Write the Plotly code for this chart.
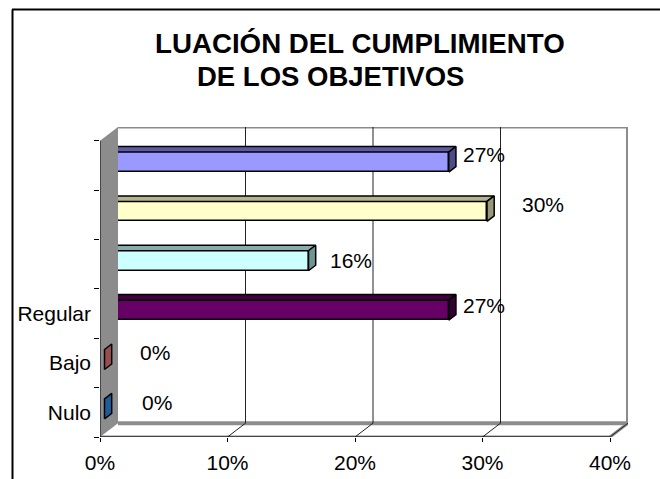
import plotly.graph_objects as go

# Survey results, bottom to top
categories = ["Nulo", "Bajo", "Regular", "", "", ""]
values = [0, 0, 27, 16, 30, 27]
x_ticks = [0, 10, 20, 30, 40]
x_tick_labels = ["0%", "10%", "20%", "30%", "40%"]
title_lines = ["LUACIÓN DEL CUMPLIMIENTO", "DE LOS OBJETIVOS"]

# Face colours (front, top, end) for each bar
front_colors = ["#3399FF", "#FF8080", "#660066", "#CCFFFF", "#FFFFCC", "#9999FF"]
top_colors = ["#225F9E", "#A65454", "#420042", "#88ABAB", "#B3B38F", "#5C5CA6"]
end_colors = ["#1F5C99", "#994D4D", "#330033", "#6E9494", "#999977", "#4D4D8C"]

# Label nudges in pixels (x, y)
label_dx = [28, 26, 5, 12, 26, 5]
label_dy = [10, 10, 8, 4, 10, 11]

FONT = "Liberation Sans, Arial, sans-serif"

# Oblique projection: full depth shifts by DX (data %) and DY (category units)
W, H = 660, 479
L, R, T, B = 100, 32, 127, 42
X_MAX = 40
N = len(categories)
px_per_x = 12.75
DX = (W - L - R) / px_per_x - X_MAX
DY = 0.28
Y_MAX = N + DY
D0, D1 = 0.25, 0.65      # bar depth span (fraction of full depth)
BAR_H = 0.405            # bar thickness in category units

fig = go.Figure()

# Front faces of the bars
centers = [i + 0.5 + D0 * DY for i in range(N)]
fig.add_trace(go.Bar(
    orientation="h", x=values, y=centers, base=[D0 * DX] * N, width=BAR_H,
    marker=dict(color=front_colors, line=dict(color="black", width=1.5)),
    hoverinfo="skip", showlegend=False,
))

def top_face(i, v):
    yt0 = i + 0.5 + D0 * DY + BAR_H / 2
    yt1 = yt0 + (D1 - D0) * DY
    xs = [D0 * DX, v + D0 * DX, v + D1 * DX, D1 * DX, D0 * DX]
    ys = [yt0, yt0, yt1, yt1, yt0]
    return xs, ys

def end_face(i, v):
    yb0 = i + 0.5 + D0 * DY - BAR_H / 2
    yt0 = yb0 + BAR_H
    yb1 = yb0 + (D1 - D0) * DY
    yt1 = yt0 + (D1 - D0) * DY
    xs = [v + D0 * DX, v + D0 * DX, v + D1 * DX, v + D1 * DX, v + D0 * DX]
    ys = [yb0, yt0, yt1, yb1, yb0]
    return xs, ys

for i, v in enumerate(values):
    xs, ys = top_face(i, v)
    fig.add_trace(go.Scatter(
        x=xs, y=ys, mode="lines", fill="toself", fillcolor=top_colors[i],
        line=dict(color="black", width=1.5), hoverinfo="skip", showlegend=False,
    ))

# Side wall (covers the near ends of the bars)
fig.add_trace(go.Scatter(
    x=[0, 0, DX, DX, 0], y=[0, N, N + DY, DY, 0],
    mode="lines", fill="toself", fillcolor="#8C8C8C",
    line=dict(color="#8C8C8C", width=0), hoverinfo="skip", showlegend=False,
))

for i, v in enumerate(values):
    xs, ys = end_face(i, v)
    fig.add_trace(go.Scatter(
        x=xs, y=ys, mode="lines", fill="toself", fillcolor=end_colors[i],
        line=dict(color="black", width=1.5), hoverinfo="skip", showlegend=False,
    ))

shapes = []
# Back wall and floor
shapes.append(dict(type="line", xref="x", yref="y", x0=DX, x1=X_MAX + DX, y0=Y_MAX, y1=Y_MAX,
                   line=dict(color="#8C8C8C", width=3), layer="below"))
shapes.append(dict(type="line", xref="x", yref="y", x0=X_MAX + DX, x1=X_MAX + DX, y0=DY, y1=Y_MAX,
                   line=dict(color="#8C8C8C", width=4), layer="below"))
shapes.append(dict(type="line", xref="x", yref="y", x0=DX, x1=X_MAX + DX, y0=DY, y1=DY,
                   line=dict(color="#8C8C8C", width=4), layer="below"))
shapes.append(dict(type="line", xref="x", yref="y", x0=X_MAX, x1=X_MAX + DX, y0=0, y1=DY,
                   line=dict(color="#8C8C8C", width=3), layer="below"))
shapes.append(dict(type="line", xref="x", yref="y", x0=0, x1=X_MAX, y0=0, y1=0,
                   line=dict(color="#8C8C8C", width=3), layer="below"))
# Grid lines on floor and back wall
for t in x_ticks[1:-1]:
    shapes.append(dict(type="line", xref="x", yref="y", x0=t, x1=t + DX, y0=0, y1=DY,
                       line=dict(color="#222222", width=1), layer="below"))
    shapes.append(dict(type="line", xref="x", yref="y", x0=t + DX, x1=t + DX, y0=DY, y1=Y_MAX,
                       line=dict(color="#222222", width=1), layer="below"))
shapes.append(dict(type="line", xref="x", yref="y", x0=X_MAX, x1=X_MAX + DX, y0=0, y1=DY,
                   line=dict(color="#222222", width=1), layer="below"))
# Front axis lines
shapes.append(dict(type="line", xref="x", yref="y", x0=0, x1=X_MAX, y0=0, y1=0,
                   line=dict(color="black", width=1)))
shapes.append(dict(type="line", xref="x", yref="y", x0=0, x1=0, y0=0, y1=N,
                   line=dict(color="black", width=1)))
# Chart frame (top and left edges)
def px_to_paper_x(p):
    return (p - L) / (W - L - R)

def px_to_paper_y(p):
    return (H - B - p) / (H - T - B)

shapes.append(dict(type="line", xref="paper", yref="paper",
                   x0=px_to_paper_x(12), x1=px_to_paper_x(W + 5),
                   y0=px_to_paper_y(9.5), y1=px_to_paper_y(9.5),
                   line=dict(color="black", width=2)))
shapes.append(dict(type="line", xref="paper", yref="paper",
                   x0=px_to_paper_x(12.5), x1=px_to_paper_x(12.5),
                   y0=px_to_paper_y(9.5), y1=px_to_paper_y(H + 5),
                   line=dict(color="black", width=2)))

annotations = []
# Value labels
for i, v in enumerate(values):
    annotations.append(dict(
        x=v + D1 * DX, y=i + 0.5, xref="x", yref="y", text=f"{v}%",
        showarrow=False, xanchor="left", yanchor="middle",
        xshift=label_dx[i], yshift=label_dy[i],
        font=dict(family=FONT, size=21, color="black"),
    ))
# Title
annotations.append(dict(x=px_to_paper_x(153), y=px_to_paper_y(44), xref="paper", yref="paper",
                        text=f"<b>{title_lines[0]}</b>", showarrow=False,
                        xanchor="left", yanchor="middle",
                        font=dict(family=FONT, size=27.7, color="black")))
annotations.append(dict(x=px_to_paper_x(195), y=px_to_paper_y(76), xref="paper", yref="paper",
                        text=f"<b>{title_lines[1]}</b>", showarrow=False,
                        xanchor="left", yanchor="middle",
                        font=dict(family=FONT, size=27.5, color="black")))

fig.update_layout(
    width=W, height=H,
    margin=dict(l=L, r=R, t=T, b=B, pad=0, autoexpand=False),
    paper_bgcolor="white", plot_bgcolor="white",
    showlegend=False, bargap=0,
    shapes=shapes, annotations=annotations,
    xaxis=dict(
        range=[0, X_MAX + DX], tickvals=x_ticks, ticktext=x_tick_labels,
        ticks="outside", ticklen=4, tickcolor="black", showgrid=False,
        zeroline=False, showline=False, ticklabelstandoff=3, automargin=False,
        tickfont=dict(family=FONT, size=21, color="black"),
    ),
    yaxis=dict(
        range=[0, Y_MAX], tickvals=[i + 0.5 for i in range(N)], ticktext=categories,
        ticks="", showgrid=False, zeroline=False, showline=False,
        ticklabelstandoff=8, automargin=False,
        tickfont=dict(family=FONT, size=21, color="black"),
        minor=dict(tickvals=list(range(N + 1)), ticks="outside", ticklen=5,
                   tickcolor="black", showgrid=False),
    ),
)

fig.write_html("out.html")
